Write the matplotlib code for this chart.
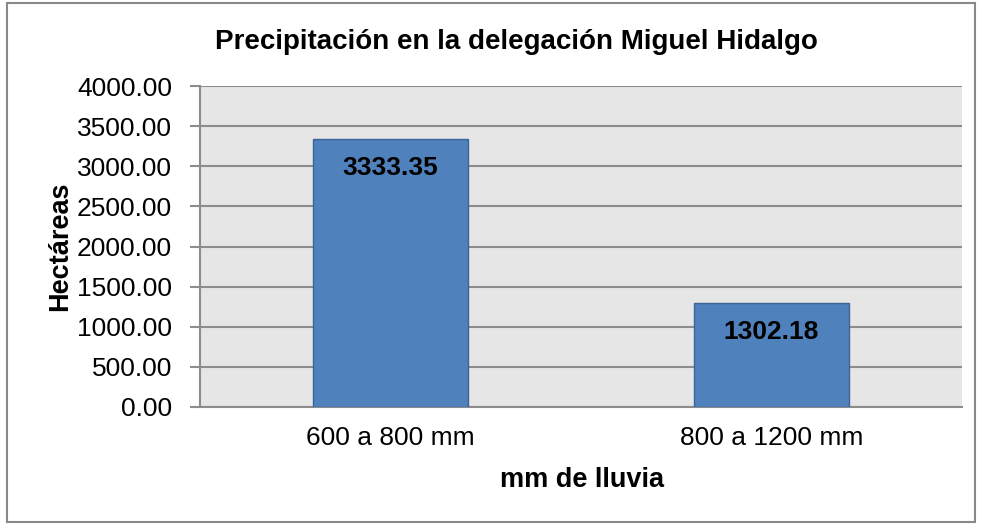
import matplotlib.pyplot as plt
from matplotlib.patches import Rectangle

# data
categorias = ["600 a 800 mm", "800 a 1200 mm"]
hectareas = [3333.35, 1302.18]
y_ticks = [0, 500, 1000, 1500, 2000, 2500, 3000, 3500, 4000]

plt.rcParams["font.family"] = ["Liberation Sans", "DejaVu Sans"]

W, H = 982, 525
fig = plt.figure(figsize=(W / 100, H / 100), dpi=100)

# outer chart border
fig.patches.append(Rectangle((7 / W, 3 / H), 968 / W, 519 / H, transform=fig.transFigure,
                             fill=False, edgecolor="#888888", linewidth=1.5))

ax = fig.add_axes([200 / W, 1 - 407 / H, 762 / W, 321 / H])
ax.set_facecolor("#E6E6E6")

x = range(len(categorias))
ax.bar(x, hectareas, width=0.405, color="#4F81BD", edgecolor="#3A6595", linewidth=1, zorder=3)

for xi, v in zip(x, hectareas):
    ax.annotate(f"{v:.2f}", (xi, v), xytext=(0, -29), textcoords="offset pixels",
                ha="center", va="center", fontsize=19, fontweight="bold", zorder=4)

ax.set_xlim(-0.5, 1.5)
ax.set_ylim(0, 4000)
ax.set_yticks(y_ticks)
ax.set_yticklabels([f"{t:.2f}" for t in y_ticks], fontsize=19)
ax.set_xticks(list(x))
ax.set_xticklabels(categorias, fontsize=19)
ax.tick_params(axis="x", length=0, pad=14)
ax.tick_params(axis="y", length=7, width=1.5, color="#8C8C8C", pad=13)
ax.yaxis.grid(True, color="#8C8C8C", linewidth=1.5, zorder=1)
ax.set_axisbelow(True)
for s in ["top", "right"]:
    ax.spines[s].set_visible(False)
for s in ["left", "bottom"]:
    ax.spines[s].set_color("#8C8C8C")
    ax.spines[s].set_linewidth(1.5)

fig.text(516 / W, 1 - 42 / H, "Precipitación en la delegación Miguel Hidalgo",
         ha="center", va="center", fontsize=20, fontweight="bold")
fig.text(60 / W, 1 - 246 / H, "Hectáreas", rotation=90, ha="center", va="center",
         fontsize=19.5, fontweight="bold")
fig.text(582 / W, 1 - 480 / H, "mm de lluvia", ha="center", va="center",
         fontsize=19.5, fontweight="bold")

fig.savefig("out.png", dpi=100)
